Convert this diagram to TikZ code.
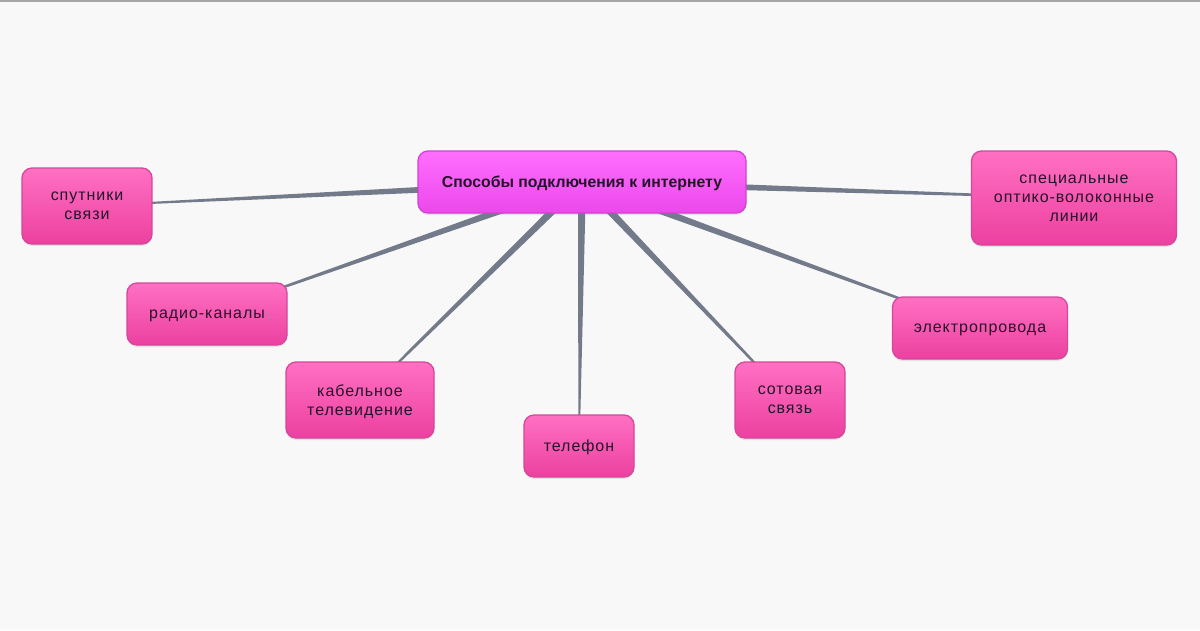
\documentclass[tikz,border=0pt]{standalone}
\usepackage{fontspec}
\setmainfont{Liberation Sans}
\usetikzlibrary{calc,shadows}
\definecolor{bgc}{HTML}{F8F8F8}
\definecolor{spokec}{HTML}{737A8A}
\definecolor{ctop}{HTML}{FF6EFF}
\definecolor{cbot}{HTML}{EC48EC}
\definecolor{cbord}{HTML}{CE44CE}
\definecolor{ltop}{HTML}{FF70C2}
\definecolor{lbot}{HTML}{EC40A0}
\definecolor{lbord}{HTML}{D4479A}
\definecolor{txt}{HTML}{24142A}
\pgfdeclarelayer{back}
\pgfdeclarelayer{bg}
\pgfsetlayers{back,bg,main}
\newcommand\myspoke[2]{%
  \fill[spokec] ($(#1.center)!4pt!90:(#2.center)$) -- ($(#1.center)!4pt!-90:(#2.center)$)
    -- ($(#2.center)!0.6pt!90:(#1.center)$) -- ($(#2.center)!0.6pt!-90:(#1.center)$) -- cycle;}
\begin{document}
\begin{tikzpicture}[x=1pt,y=-1pt,
  base/.style={rounded corners=10pt, line width=1.3pt, text=txt, align=center, inner sep=0pt,
    text depth=-1.5pt,
    drop shadow={opacity=0.18, shadow xshift=0pt, shadow yshift=-2pt}},
  hub/.style={base, draw=cbord, top color=ctop, bottom color=cbot,
    font=\fontsize{15.8}{18}\selectfont\bfseries},
  leaf/.style={base, draw=lbord, top color=ltop, bottom color=lbot,
    font=\fontsize{16}{19}\selectfont\addfontfeature{LetterSpace=6}}]
\useasboundingbox (0,0) rectangle (1200,630);
\begin{pgfonlayer}{back}
\fill[bgc] (0,0) rectangle (1200,630);
\fill[gray!70] (0,0) rectangle (1200,2);
\end{pgfonlayer}
\node[hub, minimum width=328pt, minimum height=62pt] (c) at (582,182) {Способы подключения к интернету};
\node[leaf, minimum width=130pt, minimum height=76pt] (s) at (87,206) {спутники\\связи};
\node[leaf, minimum width=160pt, minimum height=62pt] (r) at (207,314) {радио-каналы};
\node[leaf, minimum width=148pt, minimum height=76pt] (k) at (360,400) {кабельное\\телевидение};
\node[leaf, minimum width=110pt, minimum height=62pt] (t) at (579,446) {телефон};
\node[leaf, minimum width=110pt, minimum height=76pt] (m) at (790,400) {сотовая\\связь};
\node[leaf, minimum width=175pt, minimum height=62pt] (e) at (980,328) {электропровода};
\node[leaf, minimum width=205pt, minimum height=94pt] (o) at (1074,198) {специальные\\оптико-волоконные\\линии};
\begin{pgfonlayer}{bg}
\myspoke{c}{s}
\myspoke{c}{r}
\myspoke{c}{k}
\myspoke{c}{t}
\myspoke{c}{m}
\myspoke{c}{e}
\myspoke{c}{o}
\end{pgfonlayer}
\end{tikzpicture}
\end{document}
